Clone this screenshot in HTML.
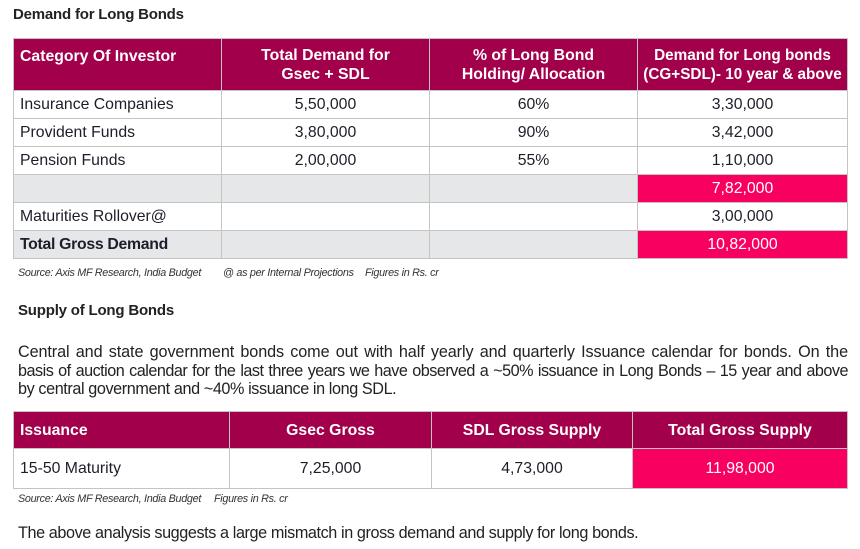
<!DOCTYPE html>
<html><head><meta charset="utf-8"><style>
*{margin:0;padding:0;box-sizing:border-box}
body{width:860px;height:549px;background:#fff;position:relative;font-family:"Liberation Sans",sans-serif;color:#222;overflow:hidden}
h2{position:absolute;font-size:15px;font-weight:bold;letter-spacing:-0.2px;color:#222;white-space:nowrap}
table{position:absolute;border-collapse:collapse;table-layout:fixed}
td,th{border:1.5px solid #c4c4c4;font-size:15.8px;letter-spacing:0;padding:0 6px;text-align:center;font-weight:normal;color:#1e1e2a;white-space:nowrap;overflow:hidden}
th{background:#a2004b;color:#fff;font-weight:bold;line-height:19px}
th.l,td.l{text-align:left}
.g{background:#e6e7e9}
.p{background:#f8005f;color:#fff}
.src{position:absolute;font-size:10.8px;font-style:italic;letter-spacing:-0.3px;color:#333;white-space:nowrap}
.para{position:absolute;left:18px;width:830px;font-size:16.2px;line-height:18.5px;letter-spacing:-0.1px;word-spacing:0;color:#222}
.para .ln{white-space:nowrap;text-align:justify;text-align-last:justify}
.para .ln.last{text-align:left;text-align-last:left}
</style></head><body>
<h2 style="left:13px;top:6px">Demand for Long Bonds</h2>
<table style="left:13px;top:38px;width:834px">
<colgroup><col style="width:208px"><col style="width:208px"><col style="width:208px"><col style="width:210px"></colgroup>
<tr style="height:52px"><th class="l" style="vertical-align:top;padding-top:8px">Category Of Investor</th><th>Total Demand for<br>Gsec + SDL</th><th>% of Long Bond<br>Holding/ Allocation</th><th style="font-size:15.3px;padding:0 2px">Demand for Long bonds<br>(CG+SDL)- 10 year &amp; above</th></tr>
<tr style="height:28px"><td class="l">Insurance Companies</td><td>5,50,000</td><td>60%</td><td>3,30,000</td></tr>
<tr style="height:28px"><td class="l">Provident Funds</td><td>3,80,000</td><td>90%</td><td>3,42,000</td></tr>
<tr style="height:28px"><td class="l">Pension Funds</td><td>2,00,000</td><td>55%</td><td>1,10,000</td></tr>
<tr style="height:28px"><td class="g"></td><td class="g"></td><td class="g"></td><td class="p">7,82,000</td></tr>
<tr style="height:28px"><td class="l">Maturities Rollover@</td><td></td><td></td><td>3,00,000</td></tr>
<tr style="height:28px"><td class="l g" style="font-weight:bold;letter-spacing:-0.3px">Total Gross Demand</td><td class="g"></td><td class="g"></td><td class="p">10,82,000</td></tr>
</table>
<div class="src" style="left:18px;top:267px">Source: Axis MF Research, India Budget</div>
<div class="src" style="left:223px;top:267px">@ as per Internal Projections</div>
<div class="src" style="left:365px;top:267px">Figures in Rs. cr</div>
<h2 style="left:18px;top:302px">Supply of Long Bonds</h2>
<div class="para" style="top:343px">
<div class="ln">Central and state government bonds come out with half yearly and quarterly Issuance calendar for bonds. On the</div>
<div class="ln" style="letter-spacing:-0.5px">basis of auction calendar for the last three years we have observed a ~50% issuance in Long Bonds – 15 year and above</div>
<div class="ln last" style="letter-spacing:-0.4px">by central government and ~40% issuance in long SDL.</div>
</div>
<table style="left:13px;top:411px;width:834px">
<colgroup><col style="width:216px"><col style="width:202px"><col style="width:201px"><col style="width:215px"></colgroup>
<tr style="height:37px"><th class="l">Issuance</th><th>Gsec Gross</th><th>SDL Gross Supply</th><th>Total Gross Supply</th></tr>
<tr style="height:40px"><td class="l">15-50 Maturity</td><td>7,25,000</td><td>4,73,000</td><td class="p">11,98,000</td></tr>
</table>
<div class="src" style="left:18px;top:493px">Source: Axis MF Research, India Budget</div>
<div class="src" style="left:214px;top:493px">Figures in Rs. cr</div>
<div class="para" style="top:524px;letter-spacing:-0.4px;white-space:nowrap">The above analysis suggests a large mismatch in gross demand and supply for long bonds.</div>
</body></html>
